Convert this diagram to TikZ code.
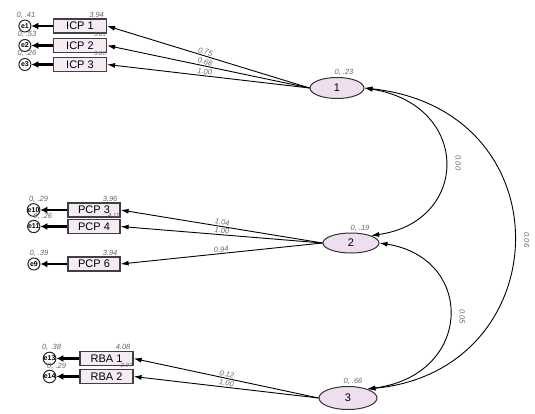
\documentclass[tikz,border=0pt]{standalone}
\usepackage{fontspec}
\setmainfont{Liberation Sans}
\usetikzlibrary{arrows.meta,positioning,shapes.geometric}

\begin{document}
\begin{tikzpicture}[x=1pt, y=-1pt, node distance=20pt, >={Latex[length=8pt,width=5pt]}]
\tikzstyle{observed}=[rectangle,
                      draw=black!75,
                      fill=violet!8,
                      line width=1.2pt,
                      minimum width=53pt,
                      minimum height=14pt,
                      inner sep=0pt,
                      font=\fontsize{11}{11}\selectfont]
\tikzstyle{latent}=[ellipse,
                    draw=black!80,
                    fill=violet!13,
                    line width=1pt,
                    minimum width=54pt,
                    minimum height=21pt,
                    inner sep=0pt,
                    font=\fontsize{11}{11}\selectfont]
\tikzstyle{errterm}=[circle,
                     draw=black!85,
                     fill=white,
                     line width=1pt,
                     minimum size=12pt,
                     inner sep=0pt,
                     font=\bfseries\fontsize{7}{7}\selectfont]
\tikzstyle{estimate}=[inner sep=1pt,
                      text=black!60,
                      font=\itshape\fontsize{7.5}{7.5}\selectfont]

\useasboundingbox (0,0) rectangle (535,414);

% factors
\node[latent] (f1) at (337,88) {1};
\node[latent, minimum width=56pt, minimum height=20pt] (f2) at (351,243) {2};
\node[latent, minimum width=58pt, minimum height=23pt] (f3) at (348,398) {3};

% indicators
\node[observed] (icp1) at (80,26) {ICP 1};
\node[observed] (icp2) at (80,45.5) {ICP 2};
\node[observed] (icp3) at (80,64.5) {ICP 3};
\node[observed, minimum width=52pt] (pcp3) at (94,210) {PCP 3};
\node[observed, minimum width=52pt] (pcp4) at (94,226.5) {PCP 4};
\node[observed, minimum width=52pt] (pcp6) at (94,264) {PCP 6};
\node[observed] (rba1) at (106.5,358.5) {RBA 1};
\node[observed] (rba2) at (106.5,376.5) {RBA 2};

% residuals
\node[errterm, left=21.5pt of icp1] (e1) {e1};
\node[errterm, left=21.5pt of icp2] (e2) {e2};
\node[errterm, left=21.5pt of icp3] (e3) {e3};
\node[errterm, left=27pt of pcp3] (e10) {e10};
\node[errterm, left=27pt of pcp4] (e11) {e11};
\node[errterm, left=27pt of pcp6] (e9) {e9};
\node[errterm, left=23pt of rba1] (e13) {e13};
\node[errterm, left=23pt of rba2] (e14) {e14};

% variances and intercepts
\node[estimate, above=0pt of e1, xshift=1pt] {0, .41};
\node[estimate, above=0pt of e2, xshift=2pt] {0, .53};
\node[estimate, above=0pt of e3, xshift=2pt] {0, .26};
\node[estimate, above=0pt of e10, xshift=5pt] {0, .29};
\node[estimate, above=-1pt of e11, xshift=9pt] {0, .26};
\node[estimate, above=0pt of e9, xshift=5pt] {0, .39};
\node[estimate, above=0pt of e13, xshift=2pt] {0, .38};
\node[estimate, above=-1pt of e14, xshift=7pt] {0, .29};
\node[estimate, anchor=south east] at ([xshift=-2pt]icp1.north east) {3.94};
\node[estimate, anchor=south east, font=\itshape\fontsize{6}{6}\selectfont] at ([xshift=0pt]icp2.north east) {3.81};
\node[estimate, anchor=south east, font=\itshape\fontsize{6}{6}\selectfont] at ([xshift=0pt]icp3.north east) {3.80};
\node[estimate, anchor=south east] at ([xshift=-2pt]pcp3.north east) {3.96};
\node[estimate, anchor=south east, font=\itshape\fontsize{6}{6}\selectfont] at ([xshift=0pt]pcp4.north east) {4.11};
\node[estimate, anchor=south east] at ([xshift=-2pt]pcp6.north east) {3.94};
\node[estimate, anchor=south east] at ([xshift=-2pt]rba1.north east) {4.08};
\node[estimate, anchor=south east, font=\itshape\fontsize{6}{6}\selectfont] at ([xshift=0pt]rba2.north east) {3.97};
\node[estimate, above=0pt of f1, xshift=7pt] {0, .23};
\node[estimate, above=0pt of f2, xshift=9pt] {0, .19};
\node[estimate, above=0pt of f3, xshift=5pt] {0, .66};

% loadings
\path[->, line width=0.9pt]
(f1.west) edge node[estimate, sloped, above, pos=.52] {0.75} (icp1.east)
(f1.west) edge node[estimate, sloped, above, pos=.52] {0.68} (icp2.east)
(f1.west) edge node[estimate, sloped, above, pos=.52] {1.00} (icp3.east)

(f2.west) edge node[estimate, sloped, above, pos=.5] {1.04} (pcp3.east)
(f2.west) edge node[estimate, sloped, above, pos=.5] {1.00} (pcp4.east)
(f2.west) edge node[estimate, sloped, above, pos=.5] {0.94} (pcp6.east)

(f3.west) edge node[estimate, sloped, above, pos=.5] {0.12} (rba1.east)
(f3.west) edge node[estimate, sloped, above, pos=.5] {1.00} (rba2.east);

% residual paths
\path[-{Latex[length=7pt,width=7pt]}, line width=2.2pt]
(icp1.west) edge (e1)
(icp2.west) edge (e2)
(icp3.west) edge (e3)
(pcp3.west) edge (e10)
(pcp4.west) edge (e11)
(pcp6.west) edge (e9)
(rba1.west) edge (rba1.west -| e13.east)
(rba2.west) edge (rba2.west -| e14.east);

% covariances
\draw[<->, line width=0.9pt]
(f1.east) .. controls +(107,17) and +(99,-14) .. (f2.north east)
  node[estimate, pos=.5, xshift=13pt, rotate=-90] {0.00};
\draw[<->, line width=0.9pt]
(f2.east) .. controls +(96,15) and +(106,-14) .. (f3.25)
  node[estimate, pos=.5, xshift=13pt, rotate=-90] {0.05};
\draw[<->, line width=0.9pt]
(f1.east) .. controls +(203,22) and +(191,-18) .. (f3.25)
  node[estimate, pos=.5, xshift=13pt, rotate=-90] {0.06};
\end{tikzpicture}
\end{document}
